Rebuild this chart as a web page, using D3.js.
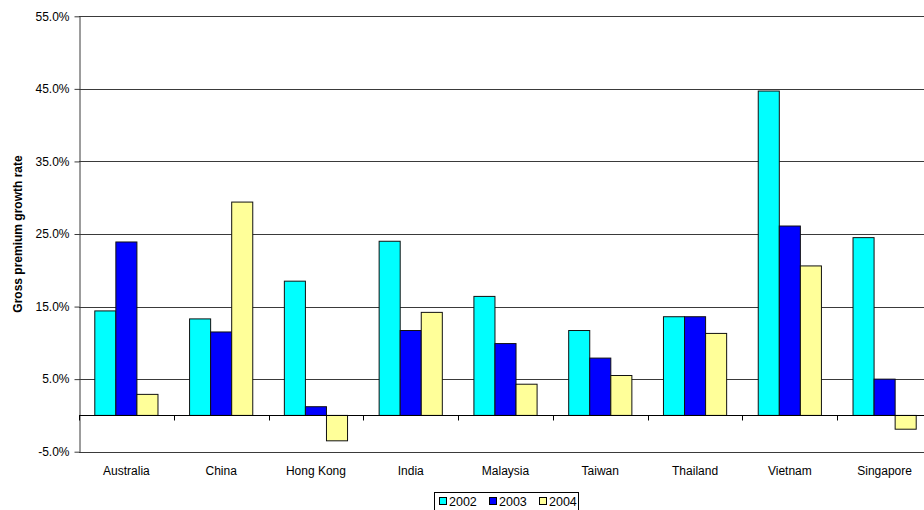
<!DOCTYPE html>
<html>
<head>
<meta charset="utf-8">
<script src="https://cdn.jsdelivr.net/npm/d3@7"></script>
<style>
  body { margin: 0; background: #fff; }
  text { font-family: "Liberation Sans", Arial, sans-serif; fill: #000; }
</style>
</head>
<body>
<div id="chart"></div>
<script>
// Categories and series
const countries = ["Australia", "China", "Hong Kong", "India", "Malaysia", "Taiwan", "Thailand", "Vietnam", "Singapore"];
const years = ["2002", "2003", "2004"];
const growth2002 = [14.4, 13.3, 18.5, 24.0, 16.4, 11.7, 13.6, 44.7, 24.5];
const growth2003 = [23.9, 11.5, 1.2, 11.7, 9.9, 7.9, 13.6, 26.1, 5.0];
const growth2004 = [2.9, 29.4, -3.5, 14.2, 4.3, 5.5, 11.3, 20.6, -1.9];
const yTicks = [-5, 5, 15, 25, 35, 45, 55];
const colors = ["#00ffff", "#0000ff", "#ffff99"];

const series = [growth2002, growth2003, growth2004];
const rows = countries.map((c, i) => ({
  country: c,
  values: years.map((y, k) => ({ year: y, value: series[k][i] }))
}));

const width = 924, height = 510;
const plotLeft = 79, plotRight = 932, plotTop = 16.3, plotBottom = 451.7;

const svg = d3.select("#chart")
  .append("svg")
  .attr("width", width)
  .attr("height", height);

const x = d3.scaleBand().domain(countries).range([plotLeft, plotRight]).padding(0);
const x1 = d3.scaleBand().domain(years).range([0, x.bandwidth()]).paddingInner(0).paddingOuter(0.75);
const y = d3.scaleLinear().domain([-5, 55]).range([plotBottom, plotTop]);

// Gridlines
svg.append("g")
  .selectAll("line")
  .data(yTicks)
  .enter().append("line")
  .attr("x1", plotLeft)
  .attr("x2", width)
  .attr("y1", d => Math.round(y(d)) + 0.5)
  .attr("y2", d => Math.round(y(d)) + 0.5)
  .attr("stroke", "#3a3a3a")
  .attr("stroke-width", 1);

// Y axis
const yAxis = svg.append("g")
  .attr("transform", `translate(${plotLeft + 0.5},0)`)
  .call(d3.axisLeft(y).tickValues(yTicks).tickSize(5).tickSizeOuter(0).tickFormat(d => d.toFixed(1) + "%"));
yAxis.select(".domain").attr("stroke", "#3a3a3a");
yAxis.selectAll(".tick line").attr("stroke", "#3a3a3a");
yAxis.selectAll(".tick text")
  .attr("x", -10)
  .style("font-size", "12px")
  .style("font-family", "Liberation Sans, Arial, sans-serif")
  .attr("fill", "#000");

// Bars
const groups = svg.append("g")
  .selectAll("g")
  .data(rows)
  .enter().append("g")
  .attr("transform", d => `translate(${x(d.country)},0)`);

groups.selectAll("rect")
  .data(d => d.values)
  .enter().append("rect")
  .attr("x", d => x1(d.year))
  .attr("y", d => y(Math.max(0, d.value)))
  .attr("width", x1.bandwidth())
  .attr("height", d => Math.abs(y(d.value) - y(0)))
  .attr("fill", (d, i) => colors[i])
  .attr("stroke", "#111")
  .attr("stroke-width", 1);

// Category axis at zero
const xAxis = svg.append("g")
  .attr("transform", `translate(0,${Math.round(y(0)) + 0.5})`);
xAxis.append("line")
  .attr("x1", plotLeft)
  .attr("x2", width)
  .attr("stroke", "#000")
  .attr("stroke-width", 1);
xAxis.selectAll(".tk")
  .data(countries)
  .enter().append("line")
  .attr("class", "tk")
  .attr("x1", d => Math.round(x(d)) + 0.5)
  .attr("x2", d => Math.round(x(d)) + 0.5)
  .attr("y1", 0)
  .attr("y2", 5)
  .attr("stroke", "#000");

// Category labels
svg.append("g")
  .selectAll("text")
  .data(countries)
  .enter().append("text")
  .attr("x", d => x(d) + x.bandwidth() / 2)
  .attr("y", 475)
  .attr("text-anchor", "middle")
  .style("font-size", "12px")
  .text(d => d);

// Y axis title
svg.append("text")
  .attr("transform", `translate(22,${(plotTop + plotBottom) / 2}) rotate(-90)`)
  .attr("text-anchor", "middle")
  .style("font-size", "12px")
  .style("font-weight", "bold")
  .text("Gross premium growth rate");

// Legend
const legend = svg.append("g").attr("transform", "translate(434,492)");
legend.append("rect")
  .attr("x", 0.5).attr("y", 0.5)
  .attr("width", 144).attr("height", 22)
  .attr("fill", "#fff")
  .attr("stroke", "#000");
const items = legend.selectAll(".item")
  .data(years)
  .enter().append("g")
  .attr("class", "item")
  .attr("transform", (d, i) => `translate(${5 + i * 50},0)`);
items.append("rect")
  .attr("x", 0.5).attr("y", 5.5)
  .attr("width", 7).attr("height", 7)
  .attr("fill", (d, i) => colors[i])
  .attr("stroke", "#000");
items.append("text")
  .attr("x", 10)
  .attr("y", 13.5)
  .style("font-size", "12.5px")
  .text(d => d);
</script>
</body>
</html>
